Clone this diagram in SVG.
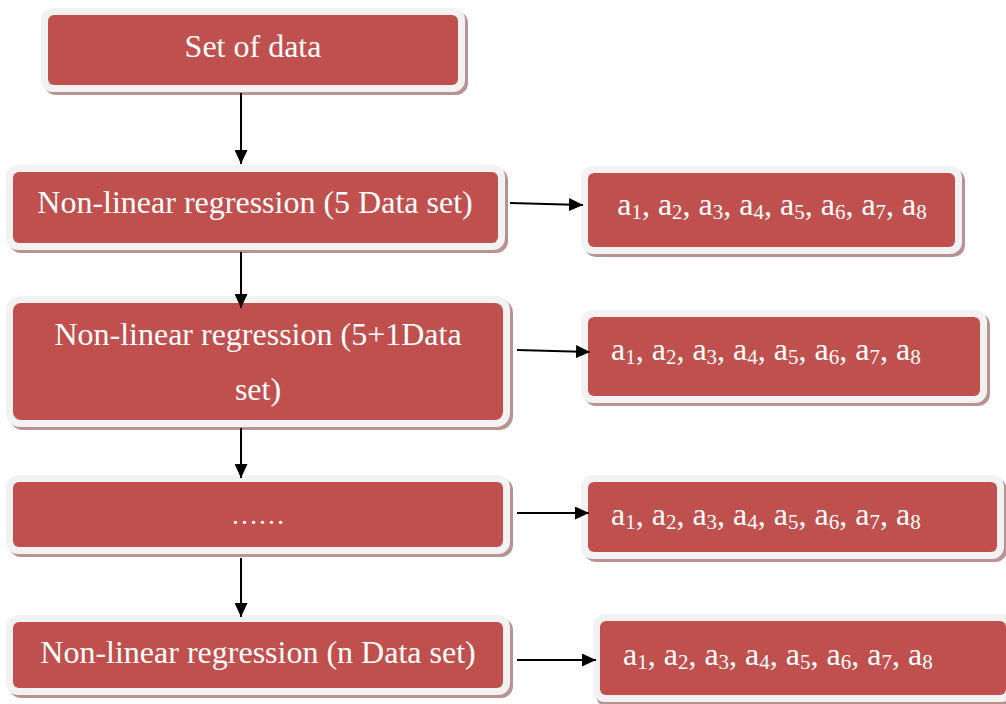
<svg xmlns="http://www.w3.org/2000/svg" width="1006" height="704" viewBox="0 0 1006 704">
  <defs>
    <marker id="arrow" viewBox="0 0 14 13" refX="14" refY="6.5" markerWidth="14" markerHeight="13" markerUnits="userSpaceOnUse" orient="auto">
      <path d="M0,0 L14,6.5 L0,13 z" fill="#000"/>
    </marker>
  </defs>
  <style>
    .shadow { fill: #b99393; }
    .frame { fill: #f2f2f2; }
    .body { fill: #c0504d; }
    .label { font-family: "Liberation Serif", "Times New Roman", serif; font-size: 32px; fill: #ffffff; }
    .mid { text-anchor: middle; }
    .sub { font-size: 21px; }
    .link { stroke: #000; stroke-width: 2; fill: none; marker-end: url(#arrow); }
  </style>

  <rect width="1006" height="704" fill="#ffffff"/>

  <!-- Set of data -->
  <g id="node-data">
    <rect class="shadow" x="44" y="11" width="424" height="84" rx="12"/>
    <rect class="frame" x="41" y="8" width="424" height="84" rx="12"/>
    <rect class="body" x="48" y="15" width="410" height="70" rx="6"/>
    <text class="label mid" x="253" y="57">Set of data</text>
  </g>

  <!-- Non-linear regression (5 Data set) -->
  <g id="node-reg5">
    <rect class="shadow" x="9" y="168" width="499" height="85" rx="12"/>
    <rect class="frame" x="6" y="165" width="499" height="85" rx="12"/>
    <rect class="body" x="13" y="172" width="485" height="71" rx="6"/>
    <text class="label mid" x="255" y="213">Non-linear regression (5 Data set)</text>
  </g>

  <!-- Non-linear regression (5+1 Data set) -->
  <g id="node-reg6">
    <rect class="shadow" x="9" y="299" width="504" height="131" rx="14"/>
    <rect class="frame" x="6" y="296" width="504" height="131" rx="14"/>
    <rect class="body" x="13" y="303" width="490" height="117" rx="8"/>
    <text class="label mid" x="258" y="345">Non-linear regression (5+1Data</text>
    <text class="label mid" x="258" y="400">set)</text>
  </g>

  <!-- intermediate steps -->
  <g id="node-dots">
    <rect class="shadow" x="9" y="478" width="504" height="79" rx="12"/>
    <rect class="frame" x="6" y="475" width="504" height="79" rx="12"/>
    <rect class="body" x="13" y="482" width="490" height="65" rx="6"/>
    <text class="label mid" x="258" y="524" style="font-size:27px">……</text>
  </g>

  <!-- Non-linear regression (n Data set) -->
  <g id="node-regn">
    <rect class="shadow" x="9" y="618" width="504" height="80" rx="12"/>
    <rect class="frame" x="6" y="615" width="504" height="80" rx="12"/>
    <rect class="body" x="13" y="622" width="490" height="66" rx="6"/>
    <text class="label mid" x="258" y="663">Non-linear regression (n Data set)</text>
  </g>

  <!-- coefficient outputs -->
  <g id="coef-1">
    <rect class="shadow" x="584" y="169" width="381" height="88" rx="12"/>
    <rect class="frame" x="581" y="166" width="381" height="88" rx="12"/>
    <rect class="body" x="588" y="173" width="367" height="74" rx="6"/>
    <text class="label mid" x="772" y="215">a<tspan class="sub" dy="4">1</tspan><tspan dy="-4">, a</tspan><tspan class="sub" dy="4">2</tspan><tspan dy="-4">, a</tspan><tspan class="sub" dy="4">3</tspan><tspan dy="-4">, a</tspan><tspan class="sub" dy="4">4</tspan><tspan dy="-4">, a</tspan><tspan class="sub" dy="4">5</tspan><tspan dy="-4">, a</tspan><tspan class="sub" dy="4">6</tspan><tspan dy="-4">, a</tspan><tspan class="sub" dy="4">7</tspan><tspan dy="-4">, a</tspan><tspan class="sub" dy="4">8</tspan></text>
  </g>

  <g id="coef-2">
    <rect class="shadow" x="584" y="313" width="406" height="93" rx="12"/>
    <rect class="frame" x="581" y="310" width="406" height="93" rx="12"/>
    <rect class="body" x="588" y="317" width="392" height="79" rx="6"/>
    <text class="label" x="611" y="360">a<tspan class="sub" dy="4">1</tspan><tspan dy="-4">, a</tspan><tspan class="sub" dy="4">2</tspan><tspan dy="-4">, a</tspan><tspan class="sub" dy="4">3</tspan><tspan dy="-4">, a</tspan><tspan class="sub" dy="4">4</tspan><tspan dy="-4">, a</tspan><tspan class="sub" dy="4">5</tspan><tspan dy="-4">, a</tspan><tspan class="sub" dy="4">6</tspan><tspan dy="-4">, a</tspan><tspan class="sub" dy="4">7</tspan><tspan dy="-4">, a</tspan><tspan class="sub" dy="4">8</tspan></text>
  </g>

  <g id="coef-3">
    <rect class="shadow" x="584" y="478" width="423" height="84" rx="12"/>
    <rect class="frame" x="581" y="475" width="423" height="84" rx="12"/>
    <rect class="body" x="588" y="482" width="409" height="70" rx="6"/>
    <text class="label" x="611" y="525">a<tspan class="sub" dy="4">1</tspan><tspan dy="-4">, a</tspan><tspan class="sub" dy="4">2</tspan><tspan dy="-4">, a</tspan><tspan class="sub" dy="4">3</tspan><tspan dy="-4">, a</tspan><tspan class="sub" dy="4">4</tspan><tspan dy="-4">, a</tspan><tspan class="sub" dy="4">5</tspan><tspan dy="-4">, a</tspan><tspan class="sub" dy="4">6</tspan><tspan dy="-4">, a</tspan><tspan class="sub" dy="4">7</tspan><tspan dy="-4">, a</tspan><tspan class="sub" dy="4">8</tspan></text>
  </g>

  <g id="coef-n">
    <rect class="shadow" x="596" y="617" width="420" height="90" rx="12"/>
    <rect class="frame" x="593" y="614" width="420" height="88" rx="12"/>
    <rect class="body" x="600" y="621" width="406" height="74" rx="6"/>
    <text class="label" x="623" y="665">a<tspan class="sub" dy="4">1</tspan><tspan dy="-4">, a</tspan><tspan class="sub" dy="4">2</tspan><tspan dy="-4">, a</tspan><tspan class="sub" dy="4">3</tspan><tspan dy="-4">, a</tspan><tspan class="sub" dy="4">4</tspan><tspan dy="-4">, a</tspan><tspan class="sub" dy="4">5</tspan><tspan dy="-4">, a</tspan><tspan class="sub" dy="4">6</tspan><tspan dy="-4">, a</tspan><tspan class="sub" dy="4">7</tspan><tspan dy="-4">, a</tspan><tspan class="sub" dy="4">8</tspan></text>
  </g>

  <!-- connectors, drawn over the node frames so the arrowheads stay visible -->
  <g id="connectors">
    <line class="link" x1="241" y1="93" x2="241" y2="164"/>
    <line class="link" x1="241" y1="252" x2="241" y2="308"/>
    <line class="link" x1="241" y1="428" x2="241" y2="478"/>
    <line class="link" x1="241" y1="558" x2="241" y2="617"/>
    <line class="link" x1="510" y1="203" x2="583" y2="205"/>
    <line class="link" x1="517" y1="350" x2="590" y2="352"/>
    <line class="link" x1="517" y1="513" x2="589" y2="513"/>
    <line class="link" x1="517" y1="660" x2="596" y2="660"/>
  </g>
</svg>
